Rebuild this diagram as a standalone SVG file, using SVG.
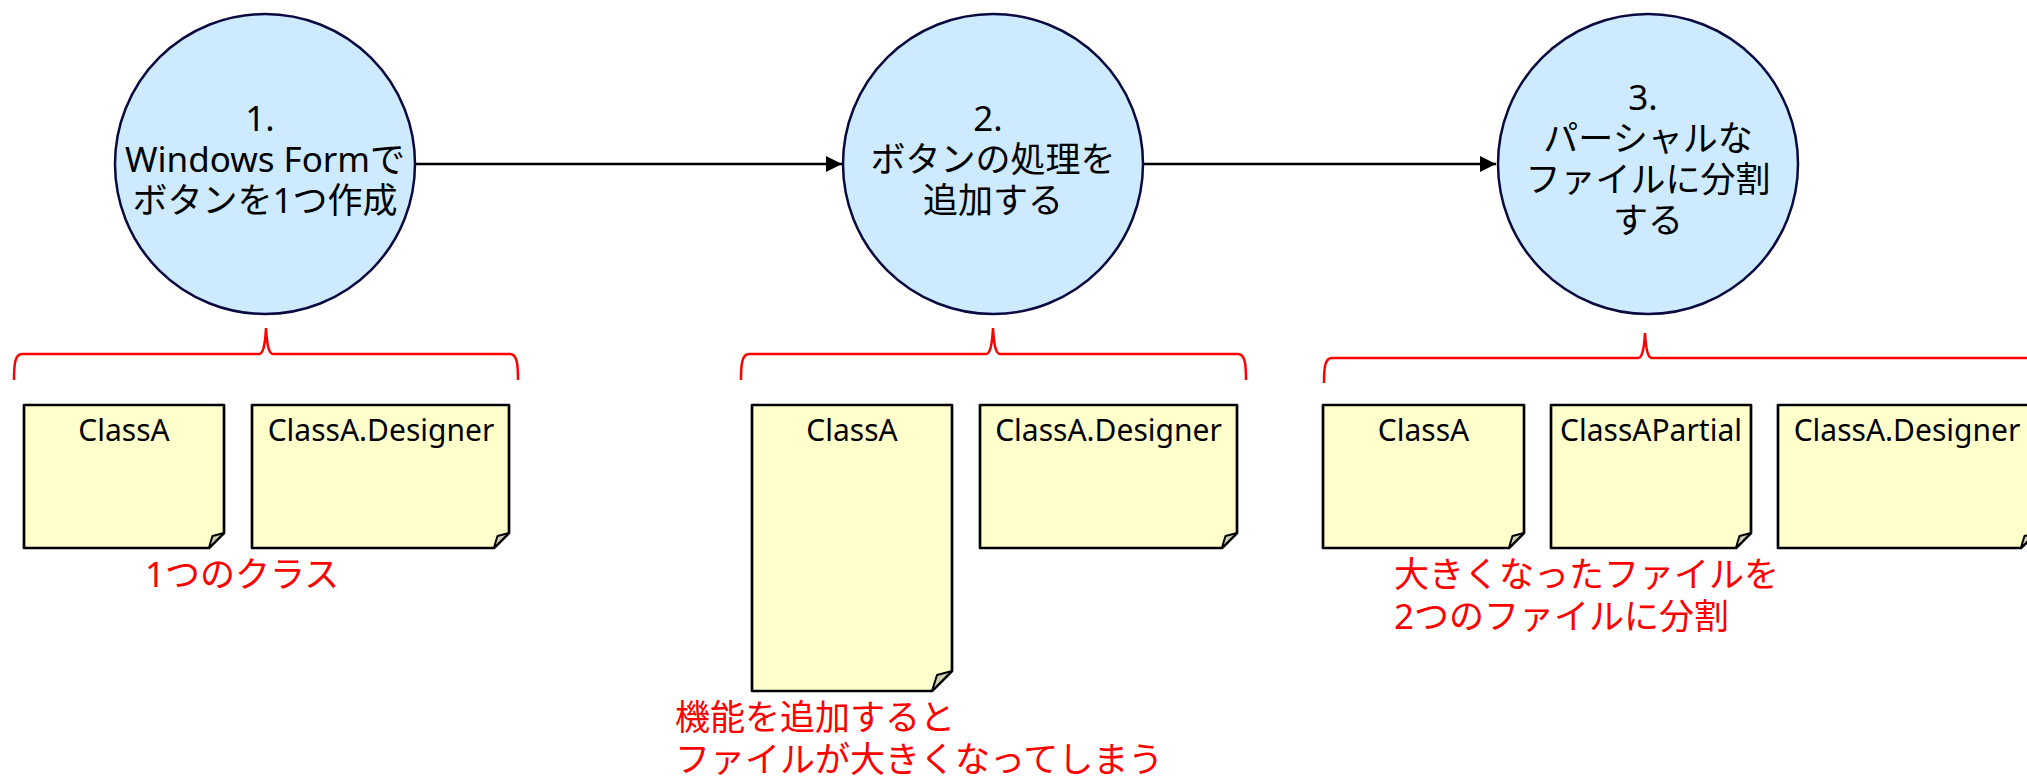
<svg xmlns="http://www.w3.org/2000/svg" width="2027" height="777" viewBox="0 0 2027 777">
<style>
text{font-family:"Noto Sans","Noto Sans CJK JP",sans-serif}
.proc{fill:#cdeaff;stroke:#0a0a40;stroke-width:2.5}
.ptxt{font-size:35px;fill:#000;text-anchor:middle}
.note{fill:#ffffcc;stroke:#000;stroke-width:2.7;stroke-linejoin:round}
.fold{fill:#cfcfb0;stroke:#000;stroke-width:2;stroke-linejoin:round}
.ntxt{font-size:30px;fill:#000;text-anchor:middle}
.brace{fill:none;stroke:#ff0000;stroke-width:2.5}
.red{font-size:35px;fill:#ff0000}
.edge{stroke:#000;stroke-width:2.6;fill:none}
</style>
<defs>
<marker id="arr" markerUnits="userSpaceOnUse" markerWidth="17" markerHeight="17" refX="16" refY="8" orient="auto">
<path d="M0,0 L16,8 L0,16 Z" fill="#000"/>
</marker>
</defs>

<g id="connectors">
<line class="edge" x1="415" y1="164" x2="842" y2="164" marker-end="url(#arr)"/>
<line class="edge" x1="1144" y1="164" x2="1496" y2="164" marker-end="url(#arr)"/>
</g>

<g id="step1">
<circle class="proc" cx="265" cy="164" r="150"/>
<text class="ptxt" x="260" y="131">1.</text>
<text class="ptxt" x="265" y="172">Windows Formで</text>
<text class="ptxt" x="265" y="213">ボタンを1つ作成</text>
</g>
<g id="step2">
<circle class="proc" cx="993" cy="164" r="150"/>
<text class="ptxt" x="988" y="131">2.</text>
<text class="ptxt" x="993" y="172">ボタンの処理を</text>
<text class="ptxt" x="993" y="213">追加する</text>
</g>
<g id="step3">
<circle class="proc" cx="1648" cy="164" r="150"/>
<text class="ptxt" x="1643" y="110">3.</text>
<text class="ptxt" x="1648" y="151">パーシャルな</text>
<text class="ptxt" x="1648" y="192">ファイルに分割</text>
<text class="ptxt" x="1648" y="233">する</text>
</g>

<g id="brace1"><path class="brace" d="M14,380 C14,364 15,354 22,354 H259 C263,354 265,346 266,328 C267,346 269,354 273,354 H510 C517,354 518,364 518,380"/></g>
<g id="brace2"><path class="brace" d="M741,380 C741,364 742,354 749,354 H986 C990,354 992,346 993,328 C994,346 996,354 1000,354 H1238 C1245,354 1246,364 1246,380"/></g>
<g id="brace3"><path class="brace" d="M1324,383 C1324,367 1325,358 1332,358 H1638 C1642,358 1644,350 1645,333 C1646,350 1648,358 1652,358 H2040"/></g>

<g id="p1-classA">
<path class="note" d="M24,405 H224 V533 L209,548 H24 Z"/>
<path class="fold" d="M224,533 L212.5,536 Q210.5,542 209,548 Z"/>
<text class="ntxt" x="124" y="441">ClassA</text>
</g>
<g id="p1-designer">
<path class="note" d="M252,405 H509 V533 L494,548 H252 Z"/>
<path class="fold" d="M509,533 L497.5,536 Q495.5,542 494,548 Z"/>
<text class="ntxt" x="381" y="441">ClassA.Designer</text>
</g>
<g id="p2-classA">
<path class="note" d="M752,405 H952 V671 L932,691 H752 Z"/>
<path class="fold" d="M952,671 L937,675 Q934.5,683 932,691 Z"/>
<text class="ntxt" x="852" y="441">ClassA</text>
</g>
<g id="p2-designer">
<path class="note" d="M980,405 H1237 V533 L1222,548 H980 Z"/>
<path class="fold" d="M1237,533 L1225.5,536 Q1223.5,542 1222,548 Z"/>
<text class="ntxt" x="1108.5" y="441">ClassA.Designer</text>
</g>
<g id="p3-classA">
<path class="note" d="M1323,405 H1524 V533 L1509,548 H1323 Z"/>
<path class="fold" d="M1524,533 L1512.5,536 Q1510.5,542 1509,548 Z"/>
<text class="ntxt" x="1423.5" y="441">ClassA</text>
</g>
<g id="p3-partial">
<path class="note" d="M1551,405 H1751 V533 L1736,548 H1551 Z"/>
<path class="fold" d="M1751,533 L1739.5,536 Q1737.5,542 1736,548 Z"/>
<text class="ntxt" x="1651" y="441">ClassAPartial</text>
</g>
<g id="p3-designer">
<path class="note" d="M1778,405 H2036 V533 L2021,548 H1778 Z"/>
<path class="fold" d="M2036,533 L2024.5,536 Q2022.5,542 2021,548 Z"/>
<text class="ntxt" x="1907" y="441">ClassA.Designer</text>
</g>

<g id="note-text1"><text class="red" x="145" y="587">1つのクラス</text></g>
<g id="note-text2">
<text class="red" x="675" y="730">機能を追加すると</text>
<text class="red" x="675" y="772">ファイルが大きくなってしまう</text>
</g>
<g id="note-text3">
<text class="red" x="1394" y="587">大きくなったファイルを</text>
<text class="red" x="1394" y="629">2つのファイルに分割</text>
</g>
</svg>
